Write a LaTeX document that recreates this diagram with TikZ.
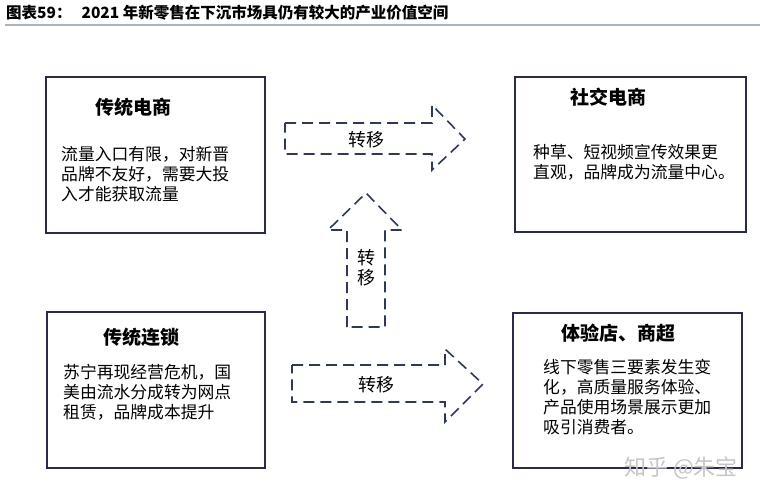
\documentclass[tikz,border=0pt]{standalone}
\usepackage{fontspec}
\newfontfamily\cjk{Noto Sans CJK SC}
\definecolor{navy}{RGB}{40,44,72}
\definecolor{arrowc}{RGB}{46,58,85}
\definecolor{rule}{RGB}{169,180,188}
\begin{document}
\begin{tikzpicture}[x=1pt,y=-1pt,
  box/.style={draw=navy,line width=1.8pt},
  darrow/.style={draw=arrowc,line width=1.6pt,dash pattern=on 11pt off 6pt,line join=miter},
  boxtitle/.style={font=\cjk\bfseries\fontsize{19}{22}\selectfont,inner sep=0pt},
  body/.style={font=\cjk\fontsize{16.8}{20}\selectfont,align=left,anchor=north west,inner sep=0pt},
  lbl/.style={font=\cjk\fontsize{18}{21}\selectfont,inner sep=0pt}]
\useasboundingbox (0,0) rectangle (760,500);
\fill[white] (0,0) rectangle (760,500);
% header
\node[anchor=west,inner sep=0pt,font=\cjk\bfseries\fontsize{15.5}{17}\selectfont] (hdr) at (6,13) {图表59：\hspace{10pt}2021 年新零售在下沉市场具仍有较大的产业价值空间};
\draw[rule,line width=2pt] (5,25.5) -- (760,25.5);
% boxes
\draw[box] (46,77) rectangle (265,233);
\draw[box] (515,77) rectangle (746,232);
\draw[box] (47,312) rectangle (265,468);
\draw[box] (513,313) rectangle (742,468);
% box texts
\node[boxtitle] (t1) at (133,107) {传统电商};
\node[body] (b1) at (61,146.5) {流量入口有限，对新晋\\品牌不友好，需要大投\\入才能获取流量};
\node[boxtitle] (t2) at (608,97) {社交电商};
\node[body] (b2) at (533,144) {种草、短视频宣传效果更\\直观，品牌成为流量中心。};
\node[boxtitle] (t3) at (141,337) {传统连锁};
\node[body] (b3) at (63,364) {苏宁再现经营危机，国\\美由流水分成转为网点\\租赁，品牌成本提升};
\node[boxtitle] (t4) at (618,333) {体验店、商超};
\node[body] (b4) at (543,359) {线下零售三要素发生变\\化，高质量服务体验、\\产品使用场景展示更加\\吸引消费者。};
% dashed arrows
\draw[darrow] (285,123) -- (432,123) -- (432,105) -- (465,139) -- (432,170) -- (432,154) -- (285,154) -- cycle;
\node[lbl] (l1) at (366,140) {转移};
\draw[darrow] (347,327) -- (347,230) -- (328,230) -- (366,193) -- (402,230) -- (385,230) -- (385,327) -- cycle;
\node[lbl,align=center] (l2) at (366,268) {转\\[-1pt]移};
\draw[darrow] (292,365) -- (445,365) -- (445,349) -- (483,384) -- (445,422) -- (445,402) -- (292,402) -- cycle;
\node[lbl] (l3) at (376,385) {转移};
% watermark
\node[inner sep=0pt,font=\cjk\fontsize{22}{24}\selectfont,text=gray!45] (wm) at (681,468) {知乎 @朱宝};
\end{tikzpicture}
\end{document}
